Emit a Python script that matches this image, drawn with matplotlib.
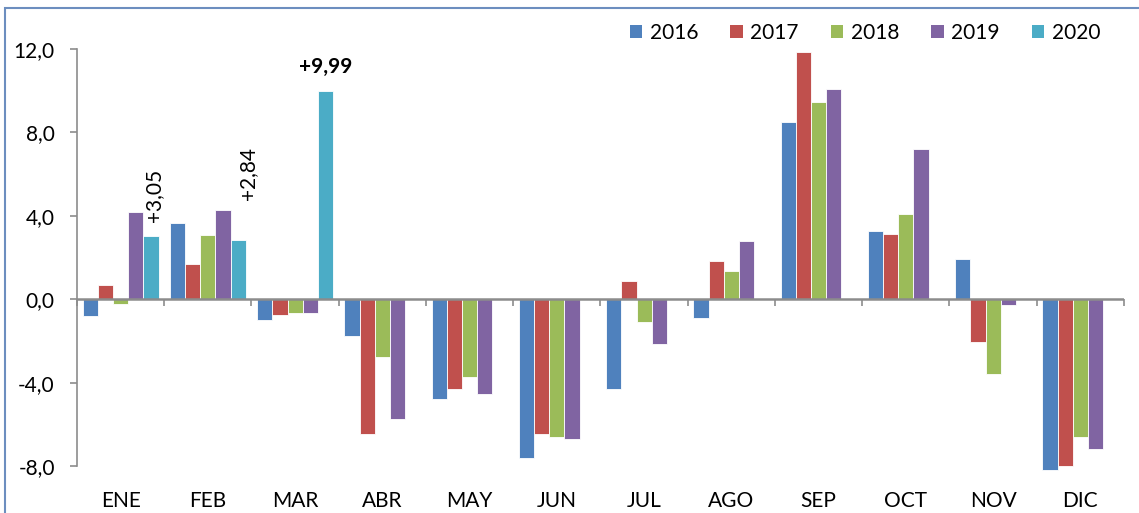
import numpy as np
import matplotlib.pyplot as plt
from matplotlib.patches import Patch, Rectangle

plt.rcParams['font.family'] = ['Lato', 'DejaVu Sans']

#############################################################################
# Monthly variation by year
months = ["ENE", "FEB", "MAR", "ABR", "MAY", "JUN",
          "JUL", "AGO", "SEP", "OCT", "NOV", "DIC"]
v2016 = [-0.80, 3.65, -1.00, -1.75, -4.78, -7.62,
         -4.32, -0.90, 8.50, 3.28, 1.95, -8.19]
v2017 = [0.67, 1.68, -0.78, -6.45, -4.33, -6.47,
         0.89, 1.85, 11.86, 3.13, -2.05, -7.99]
v2018 = [-0.25, 3.10, -0.67, -2.75, -3.73, -6.62,
         -1.07, 1.35, 9.46, 4.07, -3.58, -6.63]
v2019 = [4.16, 4.26, -0.64, -5.75, -4.53, -6.72,
         -2.13, 2.80, 10.07, 7.19, -0.29, -7.17]
v2020 = [3.05, 2.84, 9.99]
years = ["2016", "2017", "2018", "2019", "2020"]
colors = ["#4F81BD", "#C0504D", "#9BBB59", "#8064A2", "#4BACC6"]
yticks = [-8, -4, 0, 4, 8, 12]
ytick_labels = ["-8,0", "-4,0", "0,0", "4,0", "8,0", "12,0"]

FS = 15

#############################################################################
fig = plt.figure(figsize=(11.39, 5.13), dpi=100)
ax = fig.add_axes([0.0676, 0.0916, 0.9192, 0.8129])

x = np.arange(len(months))
width = 0.174
series = [v2016, v2017, v2018, v2019, v2020]
for i, (vals, col) in enumerate(zip(series, colors)):
    pos = x[:len(vals)] + (i - 2) * width
    ax.bar(pos, vals, width=width, color=col, edgecolor="white",
           linewidth=0.6, zorder=2, clip_on=False)

# labels for 2020 bars
pos20 = x[:3] + 2 * width
ax.annotate("+" + f"{v2020[0]:.2f}".replace(".", ","), (pos20[0], v2020[0]),
            xytext=(2, 10), textcoords="offset points", rotation=90,
            ha="center", va="bottom", fontsize=FS)
ax.annotate("+" + f"{v2020[1]:.2f}".replace(".", ","), (pos20[1], v2020[1]),
            xytext=(7, 29), textcoords="offset points", rotation=90,
            ha="center", va="bottom", fontsize=FS)
ax.annotate("+" + f"{v2020[2]:.2f}".replace(".", ","), (pos20[2], v2020[2]),
            xytext=(0, 10), textcoords="offset points",
            ha="center", va="bottom", fontsize=FS, fontweight="bold")

ax.set_xlim(-0.5, len(months) - 0.5)
ax.set_ylim(-8, 12)
ax.set_yticks(yticks)
ax.set_yticklabels(ytick_labels, fontsize=FS)
ax.set_xticks(x)
ax.set_xticklabels(months, fontsize=FS)
ax.tick_params(axis="x", length=0, pad=18)
ax.tick_params(axis="y", length=5, width=1.2, color="#8c8c8c", pad=11)

for s in ["top", "right", "bottom"]:
    ax.spines[s].set_visible(False)
ax.spines["left"].set_color("#8c8c8c")
ax.spines["left"].set_linewidth(1.2)

# zero line with category ticks
ax.axhline(0, color="#8c8c8c", linewidth=1.8, zorder=3)
zero_ax = ax.secondary_xaxis(0.4)
zero_ax.set_xticks(np.arange(len(months) + 1) - 0.5)
zero_ax.set_xticklabels([])
zero_ax.tick_params(length=5, width=1.2, color="#8c8c8c")
zero_ax.spines["bottom"].set_visible(False)

handles = [Patch(facecolor=c, edgecolor="none") for c in colors]
fig.legend(handles, years, loc="center right", bbox_to_anchor=(0.966, 0.936),
           ncol=5, frameon=False, fontsize=FS, handlelength=0.6,
           handleheight=0.6, handletextpad=0.35, columnspacing=1.55,
           borderpad=0, borderaxespad=0)

# outer frame (partially visible)
fig.add_artist(Rectangle((0.0044, -0.05), 1.1, 1.0344, transform=fig.transFigure,
                         fill=False, edgecolor="#6C8EBF", linewidth=1.5))

fig.savefig("out.png", dpi=100)
